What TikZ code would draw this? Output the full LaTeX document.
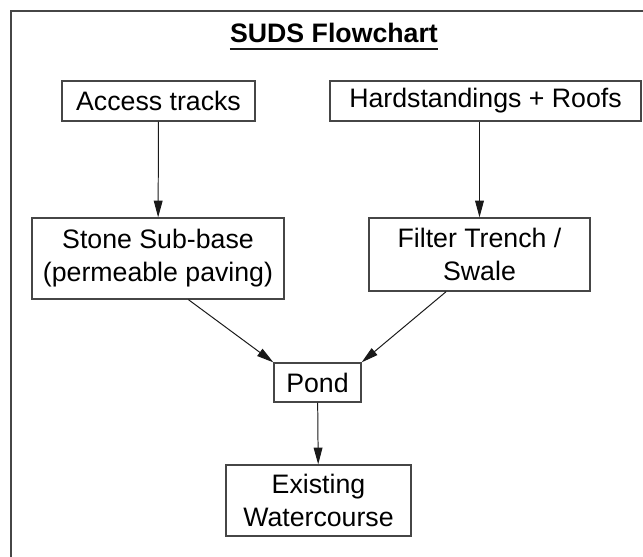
\documentclass[tikz,border=0pt]{standalone}
\usepackage{fontspec}
\setmainfont{Liberation Sans}
\usepackage{xcolor}
\usepackage{tikz}
\usetikzlibrary{calc,arrows.meta,positioning}
\definecolor{sudsLine}{RGB}{70,70,70}
\definecolor{sudsArrow}{RGB}{25,25,25}

\begin{document}
\begin{tikzpicture}[scale=1.0,
  sudsbox/.style={draw=sudsLine, line width=0.9pt, align=center, inner sep=0pt, font=\fontsize{19}{23.5}\selectfont},
  flow/.style={draw=sudsArrow, line width=0.7pt, -{Triangle[length=0.42cm,width=0.22cm]}}]
\useasboundingbox (0,0) rectangle (16.075,13.925);
\draw[sudsLine, line width=0.8pt] (16.075,13.65) -- (0.275,13.65) -- (0.275,0);
\node[font=\fontsize{19}{23.5}\selectfont\bfseries, anchor=base, inner sep=0pt] (title) at (8.35,12.85) {SUDS Flowchart};
\draw[sudsArrow, line width=1.1pt] ([yshift=-0.15cm]title.base west) -- ([yshift=-0.15cm]title.base east);
\node[sudsbox, minimum width=4.825cm, minimum height=1.0cm] (access) at (3.9625,11.4) {Access tracks};
\node[sudsbox, minimum width=7.775cm, minimum height=1.0cm] (hard) at (12.1375,11.4) {Hardstandings + Roofs};
\node[sudsbox, minimum width=6.3cm, minimum height=2.025cm] (stone) at (3.95,7.4625) {Stone Sub-base\\(permeable paving)};
\node[sudsbox, minimum width=5.525cm, minimum height=1.825cm] (filter) at (11.9875,7.5625) {Filter Trench /\\Swale};
\node[sudsbox, minimum width=2.175cm, minimum height=0.975cm] (pond) at (7.9375,4.3625) {Pond};
\node[sudsbox, minimum width=4.625cm, minimum height=1.775cm] (water) at (7.9625,1.4125) {Existing\\Watercourse};
\draw[flow] (access) -- (stone);
\draw[flow] (filter.north |- hard.south) -- (filter.north);
\draw[flow] ($(stone.south west)!0.62!(stone.south east)$) -- (pond.north west);
\draw[flow] ($(filter.south west)!0.35!(filter.south east)$) -- (pond.north east);
\draw[flow] (pond) -- (water);
\end{tikzpicture}
\end{document}
